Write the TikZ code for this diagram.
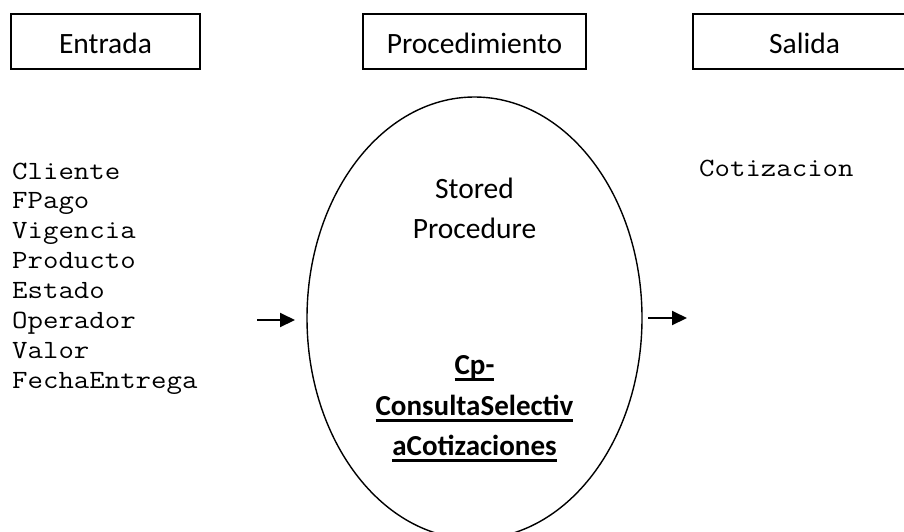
\documentclass[tikz,border=0pt]{standalone}
\usepackage{fontspec}
\setmainfont{Carlito}
\newfontfamily\codefont{Latin Modern Mono}[FakeStretch=1.14]
\usetikzlibrary{shapes.geometric,arrows.meta}

% bold text with a thick underline under it
\newsavebox\ulbox
\newcommand\boldul[1]{\sbox\ulbox{#1}\rlap{\rule[-7pt]{\wd\ulbox}{3pt}}\usebox\ulbox}

\tikzset{
  stage/.style={draw, line width=1.3pt, minimum height=55pt, inner sep=0pt,
    text height=23pt, text depth=0pt, font=\fontsize{29.5}{35}\selectfont},
  field/.style={anchor=base west, inner sep=0pt,
    font=\codefont\fontsize{26.3}{30}\selectfont},
  proc/.style={anchor=base, inner sep=0pt, font=\fontsize{29.5}{35}\selectfont},
  procname/.style={anchor=base, inner sep=0pt, font=\bfseries\fontsize{29}{35}\selectfont},
  flow/.style={line width=2pt, -{Triangle[length=15pt,width=14pt]}}
}

\begin{document}
\begin{tikzpicture}[x=1pt,y=-1pt]
  \useasboundingbox (0,0) rectangle (904,531);

  % column headers
  \node[stage, minimum width=189pt] (entrada) at (105.5,41.5) {Entrada};
  \node[stage, minimum width=223pt] (procedimiento) at (474.5,41.5) {Procedimiento};
  \node[stage, minimum width=223pt] (salida) at (804.5,41.5) {Salida};

  % input fields
  \foreach \name [count=\i from 0] in {Cliente,FPago,Vigencia,Producto,Estado,Operador,Valor,FechaEntrega}
    \node[field] (in\i) at (12,179+29.9*\i) {\name};

  % output
  \node[field] (out) at (699,176) {Cotizacion};

  % the stored procedure
  \node[draw, ellipse, line width=1.4pt, minimum width=335pt, minimum height=442pt, inner sep=0pt] (sp) at (474.5,318) {};
  \node[proc] (stored) at (474.5,198) {Stored};
  \node[proc] (procedure) at (474.5,238) {Procedure};
  \node[procname] (name1) at (474.5,374) {\boldul{Cp-}};
  \node[procname] (name2) at (474.5,415) {\boldul{ConsultaSelectiv}};
  \node[procname] (name3) at (474.5,455) {\boldul{aCotizaciones}};

  % flow arrows
  \coordinate (inA) at (257,320);
  \coordinate (inB) at (295,320);
  \coordinate (outA) at (648,318);
  \coordinate (outB) at (687,318);
  \draw[flow] (inA) -- (inB);
  \draw[flow] (outA) -- (outB);
\end{tikzpicture}
\end{document}
